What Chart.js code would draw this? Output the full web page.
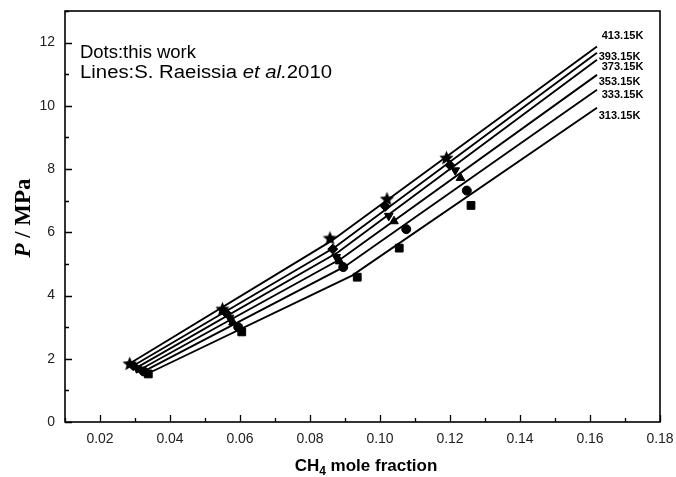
<!DOCTYPE html>
<html>
<head>
<meta charset="utf-8">
<script src="https://cdn.jsdelivr.net/npm/chart.js@4.4.0/dist/chart.umd.min.js"></script>
<style>
  html, body { margin: 0; padding: 0; background: #fff; }
  #wrap { width: 676px; height: 477px; }
</style>
</head>
<body>
<div id="wrap"><canvas id="ch4Chart"></canvas></div>
<script>
// isotherm names (line labels)
const temps = ["313.15K", "333.15K", "353.15K", "373.15K", "393.15K", "413.15K"];

// dots: this work (CH4 mole fraction, P / MPa)
const x313 = [0.0338, 0.0605, 0.0935, 0.1055, 0.1260];
const p313 = [1.52, 2.85, 4.58, 5.50, 6.85];
const x333 = [0.0325, 0.0595, 0.0895, 0.1075, 0.1248];
const p333 = [1.60, 3.00, 4.90, 6.10, 7.32];
const x353 = [0.0315, 0.0580, 0.0885, 0.1040, 0.1230];
const p353 = [1.65, 3.15, 5.08, 6.35, 7.72];
const x373 = [0.0305, 0.0570, 0.0875, 0.1025, 0.1215];
const p373 = [1.70, 3.30, 5.22, 6.52, 7.96];
const x393 = [0.0295, 0.0560, 0.0865, 0.1015, 0.1200];
const p393 = [1.78, 3.45, 5.47, 6.82, 8.12];
const x413 = [0.0285, 0.0550, 0.0857, 0.1020, 0.1190];
const p413 = [1.85, 3.58, 5.82, 7.06, 8.36];

// lines: S. Raeissia et al. 2010
const lineX313 = [0.0340, 0.0920, 0.162];
const lineP313 = [1.55, 4.63, 9.94];
const lineX333 = [0.0325, 0.0900, 0.162];
const lineP333 = [1.60, 4.92, 10.51];
const lineX353 = [0.0315, 0.0890, 0.162];
const lineP353 = [1.66, 5.17, 10.98];
const lineX373 = [0.0305, 0.0880, 0.162];
const lineP373 = [1.72, 5.37, 11.46];
const lineX393 = [0.0295, 0.0870, 0.162];
const lineP393 = [1.78, 5.52, 11.68];
const lineX413 = [0.0285, 0.0860, 0.162];
const lineP413 = [1.85, 5.72, 11.88];

// axis ticks
const xTickVals = [0.02, 0.04, 0.06, 0.08, 0.10, 0.12, 0.14, 0.16, 0.18];
const yTickVals = [0, 2, 4, 6, 8, 10, 12];

function pts(xs, ys) {
  return xs.map((x, i) => ({ x: x, y: ys[i] }));
}

// filled star marker
function makeStar(size) {
  const c = document.createElement("canvas");
  c.width = size; c.height = size;
  const g = c.getContext("2d");
  const cx = size / 2, cy = size / 2 + 0.6, ro = size / 2, ri = ro * 0.45;
  g.beginPath();
  for (let i = 0; i < 10; i++) {
    const r = i % 2 === 0 ? ro : ri;
    const a = -Math.PI / 2 + i * Math.PI / 5;
    g.lineTo(cx + r * Math.cos(a), cy + r * Math.sin(a));
  }
  g.closePath();
  g.fillStyle = "#000";
  g.fill();
  return c;
}

const dotSets = [
  { xs: x313, ys: p313, style: "rect", r: 5.5, rot: 0 },
  { xs: x333, ys: p333, style: "circle", r: 4.5, rot: 0 },
  { xs: x353, ys: p353, style: "triangle", r: 5, rot: 0 },
  { xs: x373, ys: p373, style: "triangle", r: 5, rot: 180 },
  { xs: x393, ys: p393, style: "rectRot", r: 5, rot: 0 },
  { xs: x413, ys: p413, style: makeStar(15), r: 7, rot: 0 },
];
const lineSets = [
  [lineX313, lineP313], [lineX333, lineP333], [lineX353, lineP353],
  [lineX373, lineP373], [lineX393, lineP393], [lineX413, lineP413],
];

const datasets = [];
lineSets.forEach((l, i) => {
  datasets.push({
    label: temps[i] + " line",
    data: pts(l[0], l[1]),
    showLine: true,
    borderColor: "#000",
    borderWidth: 1.9,
    pointRadius: 0,
    fill: false,
  });
});
dotSets.forEach((d, i) => {
  datasets.push({
    label: temps[i],
    data: pts(d.xs, d.ys),
    showLine: false,
    pointStyle: d.style,
    pointRadius: d.r,
    pointRotation: d.rot,
    backgroundColor: "#000",
    borderColor: "#000",
    borderWidth: 1,
  });
});

// label anchors for the isotherm names at the right end of the lines
const labelAnchorX = 0.1625;
const labelAnchorP = [9.69, 10.33, 10.76, 11.23, 11.55, 12.22];

function drawRuns(ctx, runs, x, y, align, targetW) {
  let w = 0;
  runs.forEach(r => { ctx.font = r.font; r.w = ctx.measureText(r.text).width; w += r.w; });
  const sx = targetW ? targetW / w : 1;
  ctx.save();
  ctx.translate(x, y);
  ctx.scale(sx, 1);
  let cx = align === "center" ? -w / 2 : 0;
  runs.forEach(r => {
    ctx.font = r.font;
    ctx.fillText(r.text, cx, r.dy || 0);
    cx += r.w;
  });
  ctx.restore();
}

const decorPlugin = {
  id: "decor",
  afterDraw(chart) {
    const ctx = chart.ctx;
    const a = chart.chartArea;
    const xs = chart.scales.x, ys = chart.scales.y;
    ctx.save();
    ctx.strokeStyle = "#000";
    ctx.fillStyle = "#000";
    // frame
    ctx.lineWidth = 1.6;
    ctx.strokeRect(a.left, a.top, a.right - a.left, a.bottom - a.top);
    // inward ticks
    ctx.lineWidth = 1.3;
    ctx.beginPath();
    for (let v = 0.01; v <= 0.1801; v += 0.01) {
      const px = Math.round(xs.getPixelForValue(v)) + 0.5;
      const major = Math.round(v * 100) % 2 === 0;
      ctx.moveTo(px, a.bottom);
      ctx.lineTo(px, a.bottom - (major ? 7 : 4));
    }
    for (let v = 0; v <= 13; v += 1) {
      const py = Math.round(ys.getPixelForValue(v)) + 0.5;
      const major = v % 2 === 0;
      ctx.moveTo(a.left, py);
      ctx.lineTo(a.left + (major ? 7 : 4), py);
    }
    ctx.stroke();

    // isotherm names
    ctx.textBaseline = "middle";
    ctx.textAlign = "left";
    ctx.font = "bold 11px 'Liberation Sans', Arial, sans-serif";
    temps.forEach((t, i) => {
      const px = xs.getPixelForValue(labelAnchorX) + (i % 2 === 0 ? 0 : 3);
      ctx.fillText(t, px, ys.getPixelForValue(labelAnchorP[i]));
    });

    // note text
    ctx.textBaseline = "alphabetic";
    const sans = "'Liberation Sans', Arial, sans-serif";
    drawRuns(ctx, [{ text: "Dots:this work", font: "18px " + sans }], 80, 58, "left", 116);
    drawRuns(ctx, [
      { text: "Lines:S. Raeissia ", font: "18px " + sans },
      { text: "et al.", font: "italic 18px " + sans },
      { text: "2010", font: "18px " + sans },
    ], 80, 78, "left", 252);

    // x title
    drawRuns(ctx, [
      { text: "CH", font: "bold 17px " + sans },
      { text: "4", font: "bold 12px " + sans, dy: 4 },
      { text: " mole fraction", font: "bold 17px " + sans },
    ], 366, 471, "center");

    // y title
    ctx.save();
    ctx.translate(30, 218);
    ctx.rotate(-Math.PI / 2);
    const serif = "'Liberation Serif', 'Times New Roman', serif";
    drawRuns(ctx, [
      { text: "P", font: "italic bold 23px " + serif },
      { text: " / MPa", font: "bold 23px " + serif },
    ], 0, 0, "center");
    ctx.restore();
    ctx.restore();
  },
};

new Chart(document.getElementById("ch4Chart").getContext("2d"), {
  type: "scatter",
  data: { datasets: datasets },
  options: {
    responsive: true,
    maintainAspectRatio: false,
    animation: false,
    layout: { padding: { left: 0, right: 16, top: 11, bottom: 0 } },
    plugins: {
      legend: { display: false },
      tooltip: { enabled: false },
    },
    scales: {
      x: {
        type: "linear",
        min: 0.01,
        max: 0.18,
        grid: { display: false, drawTicks: false },
        border: { display: false },
        afterBuildTicks: (s) => { s.ticks = xTickVals.map(v => ({ value: v })); },
        afterFit: (s) => { s.height = 55; s.paddingLeft = 0; s.paddingRight = 0; },
        ticks: {
          padding: 9,
          color: "#222",
          font: { family: "'Liberation Sans', Arial, sans-serif", size: 14 },
          callback: (v) => Number(v).toFixed(2),
          maxRotation: 0,
          autoSkip: false,
        },
      },
      y: {
        type: "linear",
        min: 0,
        max: 13,
        grid: { display: false, drawTicks: false },
        border: { display: false },
        afterBuildTicks: (s) => { s.ticks = yTickVals.map(v => ({ value: v })); },
        afterFit: (s) => { s.width = 65; s.paddingTop = 0; s.paddingBottom = 0; },
        ticks: {
          padding: 10,
          color: "#222",
          font: { family: "'Liberation Sans', Arial, sans-serif", size: 14 },
          autoSkip: false,
        },
      },
    },
  },
  plugins: [decorPlugin],
});
</script>
</body>
</html>
